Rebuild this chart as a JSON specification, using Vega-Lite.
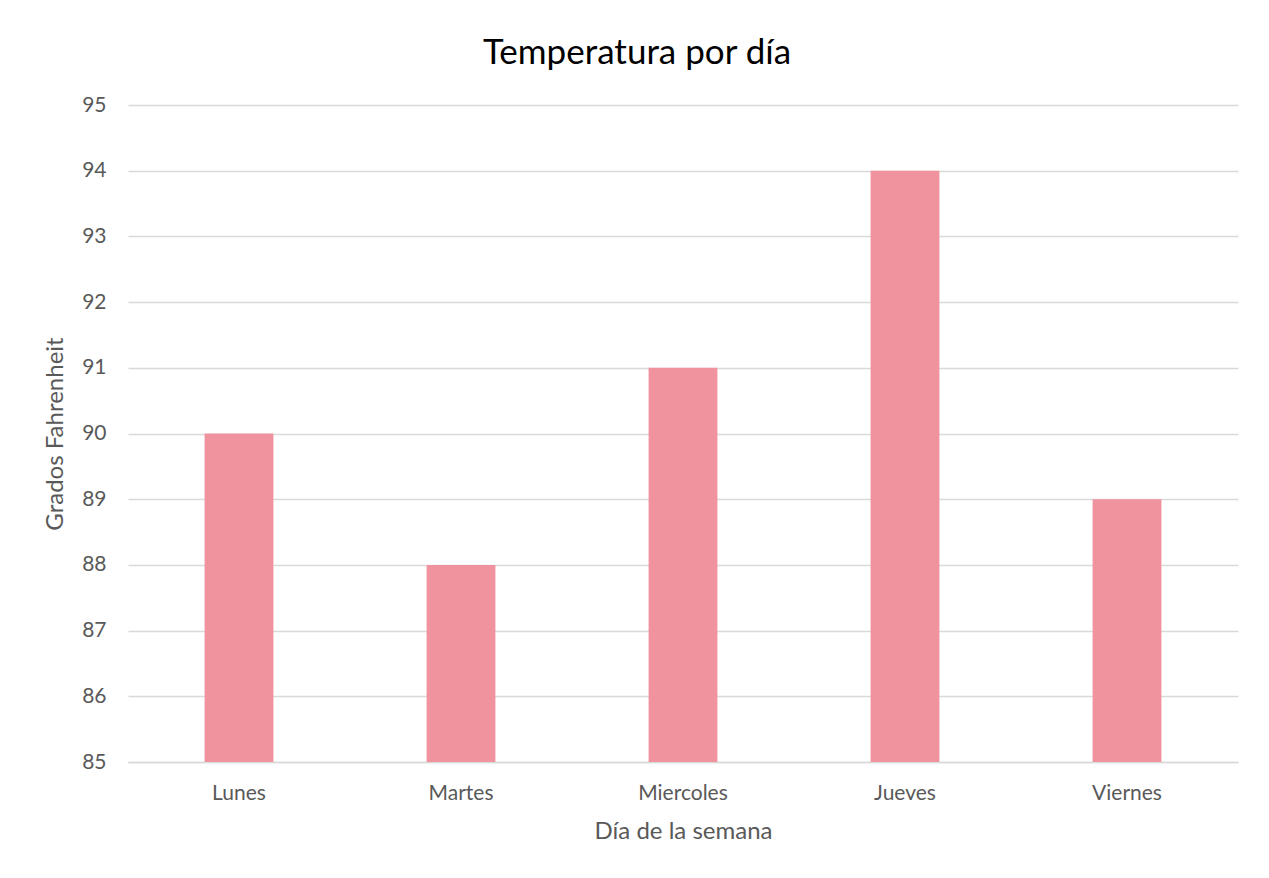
{
  "$schema": "https://vega.github.io/schema/vega-lite/v6.json",
  "width": 1110,
  "height": 657,
  "autosize": {"type": "none"},
  "padding": {"left": 128, "top": 105, "right": 31, "bottom": 116},
  "background": "white",
  "title": {
    "text": "Temperatura por día",
    "font": "Lato",
    "fontSize": 35,
    "fontWeight": "normal",
    "color": "#000000",
    "anchor": "middle",
    "frame": "group",
    "dx": -46,
    "offset": 23
  },
  "data": {
    "values": [
      {"dia": "Lunes", "temp": 90},
      {"dia": "Martes", "temp": 88},
      {"dia": "Miercoles", "temp": 91},
      {"dia": "Jueves", "temp": 94},
      {"dia": "Viernes", "temp": 89}
    ]
  },
  "mark": {"type": "bar", "color": "#F1939F", "clip": true},
  "encoding": {
    "x": {
      "field": "dia",
      "type": "nominal",
      "sort": null,
      "title": "Día de la semana",
      "scale": {"paddingInner": 0.69, "paddingOuter": 0.345},
      "axis": {
        "labelAngle": 0,
        "ticks": false,
        "domainColor": "#D9D9D9",
        "domainWidth": 1.5,
        "labelPadding": 20,
        "titlePadding": 16
      }
    },
    "y": {
      "field": "temp",
      "type": "quantitative",
      "title": "Grados Fahrenheit",
      "scale": {"domain": [85, 95], "zero": false, "nice": false},
      "axis": {
        "values": [85, 86, 87, 88, 89, 90, 91, 92, 93, 94, 95],
        "domain": false,
        "ticks": false,
        "labelPadding": 22,
        "titlePadding": 14,
        "gridColor": "#D9D9D9",
        "gridWidth": 1.5
      }
    }
  },
  "config": {
    "view": {"stroke": null},
    "axis": {
      "labelFont": "Lato",
      "labelFontSize": 21,
      "labelColor": "#595959",
      "titleFont": "Lato",
      "titleFontSize": 24,
      "titleFontWeight": "normal",
      "titleColor": "#595959"
    }
  }
}
